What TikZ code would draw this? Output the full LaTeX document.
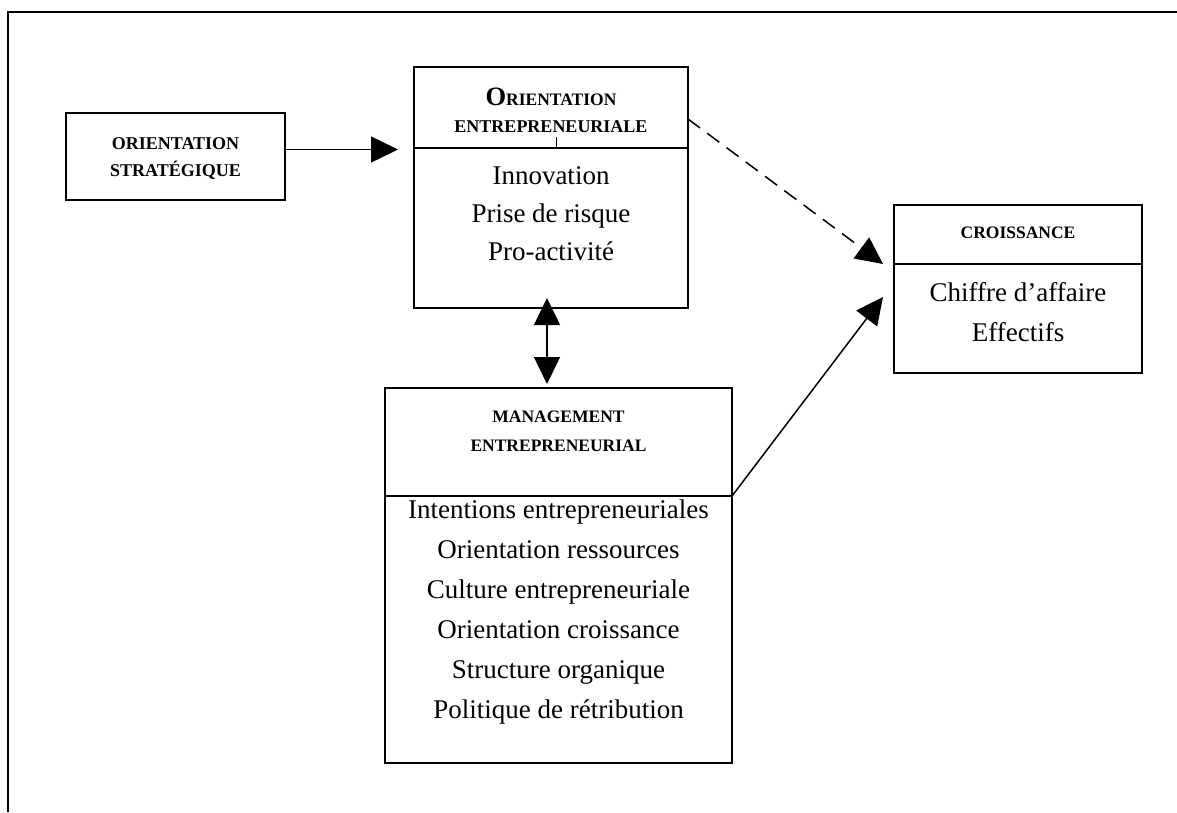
\documentclass[tikz,border=0pt]{standalone}
\usepackage{fontspec}
\setmainfont{Liberation Serif}
\usetikzlibrary{arrows.meta,calc}
\tikzset{
  box/.style={draw,line width=1.8pt,rectangle,inner sep=0pt,outer sep=0pt},
  divider/.style={line width=1.8pt},
  conn/.style={line width=1.5pt,-{Triangle[length=27pt,width=26pt]}},
  biconn/.style={line width=1.5pt,{Triangle[length=27pt,width=26pt]}-{Triangle[length=27pt,width=26pt]}},
  ttl/.style={align=center,inner sep=0pt,font=\fontsize{18}{28}\selectfont\bfseries},
  body/.style={align=center,inner sep=0pt,font=\fontsize{27}{39.5}\selectfont},
}
\begin{document}
\begin{tikzpicture}[x=1pt,y=-1pt]
\useasboundingbox (0,0) rectangle (1177,812);
% frame
\draw[line width=1.8pt] (8,812) -- (8,12) -- (1177,12);
% boxes
\node[box,minimum width=219pt,minimum height=87pt] (os) at (175.5,156.5) {};
\node[box,minimum width=274pt,minimum height=241pt] (oe) at (551,187.5) {};
\node[box,minimum width=248pt,minimum height=168pt] (cr) at (1018,289) {};
\node[box,minimum width=347pt,minimum height=375pt] (me) at (558.5,575.5) {};
% dividers
\coordinate (oediv) at ($(oe.north west)+(0,81)$);
\draw[divider] (oediv) -- (oediv -| oe.east);
\draw[line width=1pt] ($(oediv)+(142,0)$) -- ++(0,-11);
\coordinate (crdiv) at ($(cr.north west)+(0,59)$);
\draw[divider] (crdiv) -- (crdiv -| cr.east);
\coordinate (mediv) at ($(me.north west)+(0,108)$);
\draw[divider] (mediv) -- (mediv -| me.east);
% texts
\node[ttl] (ost) at (175.5,158.5) {ORIENTATION\\[-1pt]STRAT\'EGIQUE};
\node[ttl,font=\bfseries] (oet1) at (551,97) {{\fontsize{26.5}{30}\selectfont O}{\fontsize{17.5}{20}\selectfont RIENTATION}};
\node[ttl] (oet2) at (551,127) {ENTREPRENEURIALE};
\node[body] (oeb) at (551,214) {Innovation\\[-1.5pt]Prise de risque\\[-1.5pt]Pro-activit\'e};
\node[ttl,font=\fontsize{17.5}{28}\selectfont\bfseries] (crt) at (1018,233) {CROISSANCE};
\node[body] (crb) at (1018,312) {Chiffre d’affaire\\Effectifs};
\node[ttl,font=\fontsize{17.5}{29}\selectfont\bfseries] (met) at (558.5,431.5) {MANAGEMENT\\ENTREPRENEURIAL};
\node[body,font=\fontsize{27}{40}\selectfont] (meb) at (558.5,612) {Intentions entrepreneuriales\\Orientation ressources\\Culture entrepreneuriale\\Orientation croissance\\Structure organique\\Politique de r\'etribution};
% connectors
\draw[conn] ($(os.east)+(0,-7)$) -- ($(oe.west)+(-16,-38)$);
\draw[conn,dash pattern=on 15pt off 9pt] ($(oe.north east)+(0,52)$) -- ($(cr.west)+(-11,-25)$);
\draw[conn] (mediv -| me.east) -- ($(cr.west)+(-11,8)$);
\draw[biconn] ($(oe.south)+(-4,-10)$) -- ($(me.north)+(-11.5,-4)$);
\end{tikzpicture}
\end{document}
